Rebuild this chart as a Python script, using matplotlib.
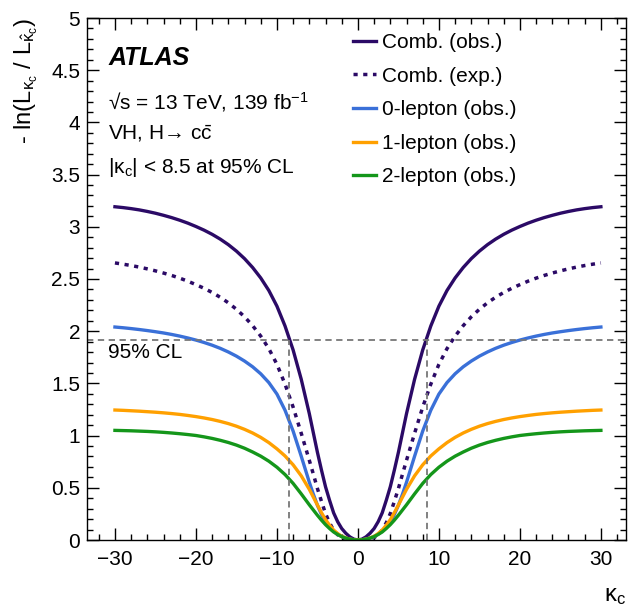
from matplotlib import pyplot as plt
from matplotlib.ticker import MultipleLocator, FormatStrFormatter

plt.rcParams['font.family'] = ['Liberation Sans', 'DejaVu Sans']
plt.rcParams['mathtext.default'] = 'regular'
plt.rcParams['mathtext.fontset'] = 'custom'
plt.rcParams['mathtext.rm'] = 'Liberation Sans'
plt.rcParams['mathtext.it'] = 'Liberation Sans:italic'

# kappa_c scan points
kappa = [-30, -29, -28, -27, -26, -25, -24, -23, -22, -21, -20, -19, -18, -17, -16, -15,
         -14, -13, -12, -11, -10, -9, -8, -7, -6, -5.5, -5, -4.5, -4, -3.5, -3, -2.5,
         -2, -1.5, -1, -0.5, 0, 0.5, 1, 1.5, 2, 2.5, 3, 3.5, 4, 4.5, 5, 5.5, 6, 7, 8,
         9, 10, 11, 12, 13, 14, 15, 16, 17, 18, 19, 20, 21, 22, 23, 24, 25, 26, 27, 28,
         29, 30]

comb_obs = [3.192, 3.184, 3.174, 3.162, 3.147, 3.13, 3.11, 3.088, 3.063, 3.035, 3.003,
            2.968, 2.928, 2.882, 2.829, 2.767, 2.695, 2.61, 2.51, 2.39, 2.24, 2.05, 1.82,
            1.54, 1.21, 1.025, 0.84, 0.67, 0.51, 0.38, 0.26, 0.175, 0.11, 0.065, 0.03,
            0.008, 0.0, 0.008, 0.03, 0.065, 0.11, 0.175, 0.26, 0.38, 0.51, 0.67, 0.84,
            1.025, 1.21, 1.54, 1.82, 2.05, 2.24, 2.39, 2.51, 2.61, 2.695, 2.767, 2.829,
            2.882, 2.928, 2.968, 3.003, 3.035, 3.063, 3.088, 3.11, 3.13, 3.147, 3.162,
            3.174, 3.184, 3.192]
comb_exp = [2.654, 2.642, 2.629, 2.614, 2.597, 2.578, 2.557, 2.534, 2.508, 2.479, 2.446,
            2.411, 2.371, 2.325, 2.272, 2.21, 2.138, 2.053, 1.953, 1.833, 1.683, 1.493,
            1.273, 1.023, 0.763, 0.63, 0.493, 0.37, 0.253, 0.165, 0.093, 0.05, 0.023,
            0.01, 0.003, 0.0005, 0.0, 0.0005, 0.003, 0.01, 0.023, 0.05, 0.093, 0.165,
            0.253, 0.37, 0.493, 0.63, 0.763, 1.023, 1.273, 1.493, 1.683, 1.833, 1.953,
            2.053, 2.138, 2.21, 2.272, 2.325, 2.371, 2.411, 2.446, 2.479, 2.508, 2.534,
            2.557, 2.578, 2.597, 2.614, 2.629, 2.642, 2.654]
lep0_obs = [2.04, 2.033, 2.025, 2.016, 2.006, 1.995, 1.983, 1.969, 1.953, 1.935, 1.915,
            1.892, 1.866, 1.836, 1.801, 1.761, 1.714, 1.659, 1.592, 1.508, 1.398, 1.243,
            1.043, 0.803, 0.553, 0.438, 0.333, 0.245, 0.173, 0.123, 0.083, 0.055, 0.033,
            0.018, 0.008, 0.002, 0.0, 0.002, 0.008, 0.018, 0.033, 0.055, 0.083, 0.123,
            0.173, 0.245, 0.333, 0.438, 0.553, 0.803, 1.043, 1.243, 1.398, 1.508, 1.592,
            1.659, 1.714, 1.761, 1.801, 1.836, 1.866, 1.892, 1.915, 1.935, 1.953, 1.969,
            1.983, 1.995, 2.006, 2.016, 2.025, 2.033, 2.04]
lep1_obs = [1.245, 1.242, 1.238, 1.234, 1.229, 1.224, 1.218, 1.211, 1.203, 1.193, 1.182,
            1.169, 1.154, 1.136, 1.115, 1.09, 1.06, 1.025, 0.983, 0.933, 0.873, 0.805,
            0.72, 0.615, 0.485, 0.41, 0.335, 0.262, 0.195, 0.142, 0.095, 0.062, 0.035,
            0.02, 0.008, 0.002, 0.0, 0.002, 0.008, 0.02, 0.035, 0.062, 0.095, 0.142,
            0.195, 0.262, 0.335, 0.41, 0.485, 0.615, 0.72, 0.805, 0.873, 0.933, 0.983,
            1.025, 1.06, 1.09, 1.115, 1.136, 1.154, 1.169, 1.182, 1.193, 1.203, 1.211,
            1.218, 1.224, 1.229, 1.234, 1.238, 1.242, 1.245]
lep2_obs = [1.05, 1.048, 1.046, 1.043, 1.04, 1.036, 1.031, 1.025, 1.018, 1.01, 1.001,
            0.988, 0.973, 0.955, 0.934, 0.909, 0.879, 0.843, 0.803, 0.755, 0.697, 0.627,
            0.542, 0.442, 0.337, 0.287, 0.237, 0.19, 0.147, 0.11, 0.077, 0.053, 0.032,
            0.018, 0.008, 0.002, 0.0, 0.002, 0.008, 0.018, 0.032, 0.053, 0.077, 0.11,
            0.147, 0.19, 0.237, 0.287, 0.337, 0.442, 0.542, 0.627, 0.697, 0.755, 0.803,
            0.843, 0.879, 0.909, 0.934, 0.955, 0.973, 0.988, 1.001, 1.01, 1.018, 1.025,
            1.031, 1.036, 1.04, 1.043, 1.046, 1.048, 1.05]

cl_threshold = 1.92
cl_limit = 8.5

fig = plt.figure(figsize=(6.28, 6.07), dpi=100)
ax = fig.add_axes([87/628, 67/607, 539/628, 522/607])

purple = '#2b0a66'
ax.plot(kappa, comb_obs, color=purple, lw=2.4, label='Comb. (obs.)')
ax.plot(kappa, comb_exp, color=purple, lw=2.5, ls=(0, (1.2, 1.6)), label='Comb. (exp.)')
ax.plot(kappa, lep0_obs, color='#3a70d8', lw=2.4, label='0-lepton (obs.)')
ax.plot(kappa, lep1_obs, color='#ffa000', lw=2.4, label='1-lepton (obs.)')
ax.plot(kappa, lep2_obs, color='#14961a', lw=2.4, label='2-lepton (obs.)')

# 95% CL lines
ax.axhline(cl_threshold, color='#777777', lw=1.3, ls=(0, (3.5, 2.5)))
ax.vlines([-cl_limit, cl_limit], 0, cl_threshold, color='#777777', lw=1.3,
          linestyles=[(0, (3.5, 2.5))])

ax.set_xlim(-33.45, 33.1)
ax.set_ylim(0, 5)
ax.xaxis.set_major_locator(MultipleLocator(10))
ax.xaxis.set_minor_locator(MultipleLocator(2))
ax.yaxis.set_major_locator(MultipleLocator(0.5))
ax.yaxis.set_minor_locator(MultipleLocator(0.1))
ax.yaxis.set_major_formatter(FormatStrFormatter('%g'))
ax.tick_params(which='both', direction='in', top=True, right=True, labelsize=15, width=1.0)
ax.tick_params(which='major', length=8.5)
ax.tick_params(which='minor', length=4.3)
ax.tick_params(axis='x', pad=7)
ax.tick_params(axis='y', pad=5)
for s in ax.spines.values():
    s.set_linewidth(1.0)

ax.set_ylabel(r'- ln(L$_{κ_c}$ / L$_{\hat{κ}_c}$)', fontsize=17, loc='top', labelpad=8)
ax.set_xlabel(r'κ$_c$', fontsize=17, loc='right', labelpad=12)

ax.text(0.039, 0.923, 'ATLAS', transform=ax.transAxes, fontsize=18,
        fontweight='bold', fontstyle='italic', va='center')
ax.text(0.039, 0.839, r'√s = 13 TeV, 139 fb$^{-1}$', transform=ax.transAxes,
        fontsize=15, va='center')
ax.text(0.039, 0.778, r'VH, H→ c$\bar{c}$', transform=ax.transAxes,
        fontsize=15, va='center')
ax.text(0.039, 0.713, r'|κ$_c$| < 8.5 at 95% CL', transform=ax.transAxes,
        fontsize=15, va='center')
ax.text(0.039, 0.36, '95% CL', transform=ax.transAxes, fontsize=15, va='center')

ax.legend(loc='upper left', bbox_to_anchor=(0.494, 0.971), frameon=False, fontsize=15,
          borderpad=0, borderaxespad=0, handlelength=1.1, handletextpad=0.3,
          labelspacing=0.7)

fig.savefig('out.png', dpi=100)
